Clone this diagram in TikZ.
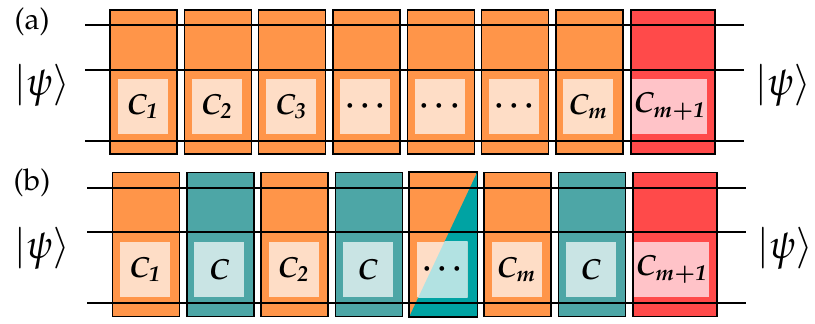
\documentclass[tikz,border=0pt]{standalone}
\usepackage[T1]{fontenc}
\usepackage{mathpazo}
\usetikzlibrary{calc, positioning}
\definecolor{orng}{HTML}{FF9549}
\definecolor{orngl}{HTML}{FEDDC6}
\definecolor{teal}{HTML}{4DA6A6}
\definecolor{teall}{HTML}{C9E4E4}
\definecolor{tealx}{HTML}{00A3A3}
\definecolor{tealxl}{HTML}{B2E2E2}
\definecolor{rd}{HTML}{FF4A4A}
\definecolor{rdl}{HTML}{FFC3C8}
\tikzset{gate/.style={draw=black, line width=0.7pt, minimum width=33.5pt, minimum height=72pt, inner sep=0pt},
  slot/.style={minimum width=25pt, minimum height=27.5pt, inner sep=0pt, font=\fontsize{14.5}{16}\selectfont\boldmath},
  wire/.style={line width=0.85pt},
  tag/.style={font=\fontsize{15}{18}\selectfont},
  ket/.style={font=\fontsize{20}{24}\selectfont}}

\begin{document}
\begin{tikzpicture}[x=0.5pt, y=-0.5pt]
  \useasboundingbox (0,0) rectangle (815,324);
  % panel (a)
  \foreach \i/\t in {1/{C_{\mathit{1}}},2/{C_{\mathit{2}}},3/{C_{\mathit{3}}},4/{\cdots},5/{\cdots},6/{\cdots},7/{C_{m}}}{
     \node[gate, fill=orng] (a\i) at ({143.5+(\i-1)*74.3},82) {};
     \node[slot, fill=orngl] (a\i in) at ({142.5+(\i-1)*74.3},106.5) {$\t$};}
  \node[gate, fill=rd, minimum width=42pt] (a8) at (673,82) {};
  \node[slot, fill=rdl, minimum width=37.5pt] (a8in) at (669.5,106.5) {$C_{m\mathit{+1}}$};
  \foreach \w/\y in {1/25,2/70,3/141}{
     \coordinate (aw\w l) at (85,\y); \coordinate (aw\w r) at (744,\y);
     \draw[wire] (aw\w l) -- (aw\w r);}
  \node[tag] (atag) at (32,22) {(a)};
  \node[ket] (aketl) at (42,85) {$|\psi\rangle$};
  \node[ket] (aketr) at (783,85) {$|\psi\rangle$};
  % panel (b)
  \foreach \i/\c/\t in {1/orng/{C_{\mathit{1}}},2/teal/{C},3/orng/{C_{\mathit{2}}},4/teal/{C},5/orng/{},6/orng/{C_{m}},7/teal/{C}}{
     \node[gate, fill=\c] (b\i) at ({146+(\i-1)*74.3},244.5) {};
     \node[slot, fill=\c l] (b\i in) at ({145+(\i-1)*74.3},269.5) {$\t$};}
  \fill[tealx] (b5.south west) -- (b5.north east) -- (b5.south east) -- cycle;
  \begin{scope}
     \clip (b5in.south west) rectangle (b5in.north east);
     \fill[orngl] (b5in.south west) rectangle (b5in.north east);
     \fill[tealxl] (b5.south west) -- (b5.north east) -- (b5.south east) -- cycle;
  \end{scope}
  \draw[line width=0.7pt] (b5.south west) rectangle (b5.north east);
  \node[slot] (b5dots) at (b5in) {$\cdots$};
  \node[gate, fill=rd, minimum width=42pt] (b8) at (675,244.5) {};
  \node[slot, fill=rdl, minimum width=37.5pt] (b8in) at (671.5,269.5) {$C_{m\mathit{+1}}$};
  \foreach \w/\y in {1/188,2/232,3/303}{
     \coordinate (bw\w l) at (87,\y); \coordinate (bw\w r) at (746,\y);
     \draw[wire] (bw\w l) -- (bw\w r);}
  \node[tag] (btag) at (32,183) {(b)};
  \node[ket] (bketl) at (42,248) {$|\psi\rangle$};
  \node[ket] (bketr) at (785,248) {$|\psi\rangle$};
\end{tikzpicture}
\end{document}
